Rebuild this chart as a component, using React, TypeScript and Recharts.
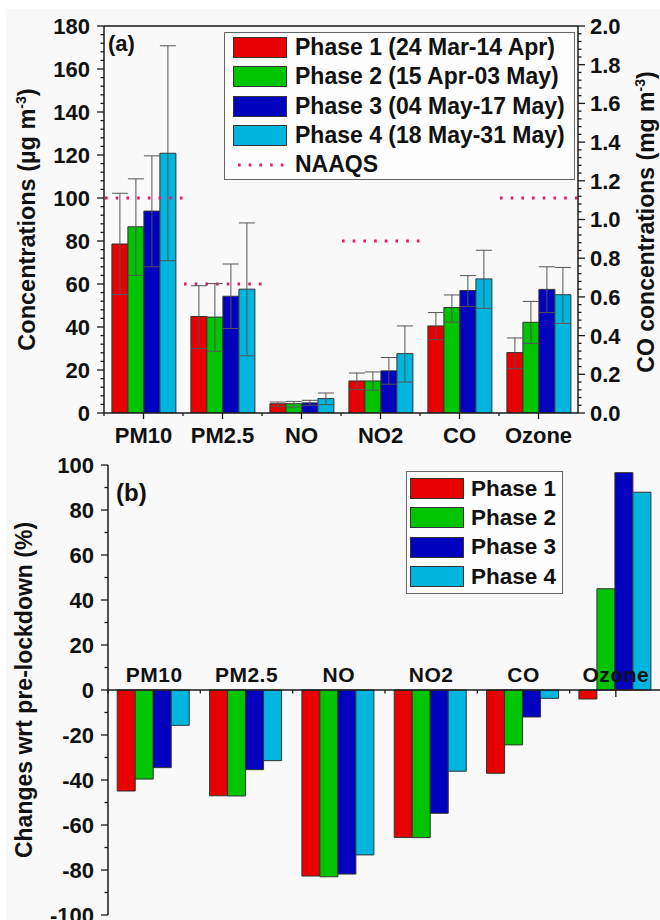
import React from "react";
import {
  ComposedChart,
  Bar,
  Line,
  XAxis,
  YAxis,
  ErrorBar,
  Legend,
  ReferenceLine,
} from "recharts";

const CATEGORIES = ["PM10", "PM2.5", "NO", "NO2", "CO", "Ozone"];

// panel (a): CO is in mg m-3 (right axis), everything else in µg m-3
const PHASE1 = [78.6, 44.9, 4.3, 14.9, 0.45, 28.1];
const PHASE2 = [86.6, 44.6, 4.3, 14.9, 0.545, 42.2];
const PHASE3 = [93.9, 54.3, 4.7, 19.6, 0.633, 57.5];
const PHASE4 = [120.8, 57.6, 6.7, 27.6, 0.693, 55.0];
const PHASE1_LO = [55.1, 30.0, 3.1, 10.9, 0.379, 20.6];
const PHASE1_HI = [102.2, 59.2, 5.1, 18.6, 0.519, 34.9];
const PHASE2_LO = [64.0, 28.7, 2.8, 10.6, 0.47, 32.3];
const PHASE2_HI = [108.9, 60.2, 5.4, 19.1, 0.61, 51.9];
const PHASE3_LO = [68.0, 39.3, 3.6, 13.4, 0.55, 46.7];
const PHASE3_HI = [119.6, 69.3, 5.9, 25.8, 0.71, 68.0];
const PHASE4_LO = [70.8, 26.6, 3.9, 14.4, 0.541, 41.6];
const PHASE4_HI = [170.8, 88.4, 9.3, 40.5, 0.841, 67.7];
const NAAQS = [100, 60, null, 80, null, 100];

// panel (b): % change wrt pre-lockdown
const CHANGE1 = [-44.9, -47.0, -82.7, -65.5, -37.0, -4.0];
const CHANGE2 = [-39.6, -47.1, -83.0, -65.6, -24.4, 45.0];
const CHANGE3 = [-34.5, -35.4, -81.8, -54.8, -12.0, 96.6];
const CHANGE4 = [-15.7, -31.4, -73.3, -36.1, -3.7, 87.9];

const TOP_NAMES = [
  "Phase 1 (24 Mar-14 Apr)",
  "Phase 2 (15 Apr-03 May)",
  "Phase 3 (04 May-17 May)",
  "Phase 4 (18 May-31 May)",
];
const BOTTOM_NAMES = ["Phase 1", "Phase 2", "Phase 3", "Phase 4"];

const LEFT_MAJOR = [0, 20, 40, 60, 80, 100, 120, 140, 160, 180];
const RIGHT_MAJOR = [0, 0.2, 0.4, 0.6, 0.8, 1.0, 1.2, 1.4, 1.6, 1.8, 2.0];
const CHANGE_MAJOR = [-100, -80, -60, -40, -20, 0, 20, 40, 60, 80, 100];

const COLORS = ["#e80000", "#00c400", "#0000bf", "#00b6de"];
const NAAQS_COLOR = "#e3186e";
const AXIS = "#1a1a1a";
const FONT = "'Liberation Sans', Arial, sans-serif";

const W = 660;
const TOP_LEFT_W = 104;
const TOP_RIGHT_W = 82;
const TOP_CAT_W = (W - TOP_LEFT_W - TOP_RIGHT_W) / CATEGORIES.length;
const BOT_W = 662;
const BOT_LEFT_W = 108;
const BOT_CAT_W = (BOT_W - BOT_LEFT_W) / CATEGORIES.length;

const LEFT_MAX = LEFT_MAJOR[LEFT_MAJOR.length - 1];
const RIGHT_MAX = RIGHT_MAJOR[RIGHT_MAJOR.length - 1];
const CO_SCALE = LEFT_MAX / RIGHT_MAX;

const subdivide = (majors: number[], n: number) =>
  majors.flatMap((m, i) =>
    i === 0
      ? [m]
      : Array.from({ length: n }, (_, k) => majors[i - 1] + ((m - majors[i - 1]) * (k + 1)) / n)
  );

const isMajor = (v: number, majors: number[]) => majors.some((m) => Math.abs(m - v) < 1e-6);

const phases = [
  { v: PHASE1, lo: PHASE1_LO, hi: PHASE1_HI },
  { v: PHASE2, lo: PHASE2_LO, hi: PHASE2_HI },
  { v: PHASE3, lo: PHASE3_LO, hi: PHASE3_HI },
  { v: PHASE4, lo: PHASE4_LO, hi: PHASE4_HI },
];

// CO is drawn against the right axis, so bring it onto the left axis units
const toLeft = (v: number, i: number) => (CATEGORIES[i] === "CO" ? v * CO_SCALE : v);

const topData = CATEGORIES.map((name, i) => {
  const row: any = { name, naaqs: NAAQS[i] };
  phases.forEach((p, k) => {
    const v = toLeft(p.v[i], i);
    row[`p${k}`] = v;
    row[`e${k}`] = [v - toLeft(p.lo[i], i), toLeft(p.hi[i], i) - v];
  });
  return row;
});

const bottomData = CATEGORIES.map((name, i) => ({
  name,
  c0: CHANGE1[i],
  c1: CHANGE2[i],
  c2: CHANGE3[i],
  c3: CHANGE4[i],
  zero: 0,
}));

function SideTick(props: any) {
  const { x, y, payload, majors, side, fmt } = props;
  const major = isMajor(payload.value, majors);
  const len = major ? 7 : 3.5;
  const dir = side === "left" ? -1 : 1;
  return (
    <g>
      <line x1={x} x2={x + dir * len} y1={y} y2={y} stroke={AXIS} strokeWidth={1.3} />
      {major && (
        <text
          x={x + dir * (side === "left" ? 14 : 12)}
          y={y}
          dy="0.36em"
          textAnchor={side === "left" ? "end" : "start"}
          fontSize={22}
          fontWeight="bold"
          fontFamily={FONT}
          fill="#111"
        >
          {fmt(payload.value)}
        </text>
      )}
    </g>
  );
}

function TopXTick(props: any) {
  const { x, y, payload } = props;
  return (
    <g>
      <line x1={x} x2={x} y1={y} y2={y + 6} stroke={AXIS} strokeWidth={1.3} />
      <line x1={x - TOP_CAT_W / 2} x2={x - TOP_CAT_W / 2} y1={y} y2={y + 3} stroke={AXIS} strokeWidth={1.3} />
      <text x={x} y={y + 30} textAnchor="middle" fontSize={22} fontWeight="bold" fontFamily={FONT} fill="#111">
        {payload.value}
      </text>
    </g>
  );
}

const NaaqsShape = (p: any) =>
  p.value == null || p.value === 0 ? (
    <g />
  ) : (
    <line
      x1={p.x}
      x2={p.x + p.width}
      y1={p.y}
      y2={p.y}
      stroke={NAAQS_COLOR}
      strokeWidth={3}
      strokeDasharray="2.6 8.1"
    />
  );

const legendKey = (e: any) => (e.dataKey === "naaqs" ? "z" : String(e.dataKey));

function LegendBox({ payload, width, swatchLeft, gap, padTop, fontSize }: any) {
  const items = [...(payload || [])]
    .filter((e: any) => e.type !== "none")
    .sort((a: any, b: any) => (legendKey(a) < legendKey(b) ? -1 : 1));
  return (
    <div
      style={{
        width,
        boxSizing: "border-box",
        border: "1.5px solid #666",
        background: "#fdfdfd",
        padding: `${padTop}px 0 ${padTop}px ${swatchLeft}px`,
        fontFamily: FONT,
      }}
    >
      {items.map((e: any) => (
        <div key={String(e.dataKey)} style={{ display: "flex", alignItems: "center", height: 29.3 }}>
          {e.dataKey === "naaqs" ? (
            <svg width={54} height={20}>
              <line x1={5} x2={52} y1={10} y2={10} stroke={NAAQS_COLOR} strokeWidth={3} strokeDasharray="2.6 8.1" />
            </svg>
          ) : (
            <div
              style={{
                width: 54,
                height: 21,
                boxSizing: "border-box",
                background: e.color,
                border: "1px solid #333",
              }}
            />
          )}
          <span style={{ marginLeft: gap, fontSize, fontWeight: "bold", color: "#111", whiteSpace: "nowrap" }}>
            {e.value}
          </span>
        </div>
      ))}
    </div>
  );
}

function TopChart() {
  return (
    <ComposedChart
      width={W}
      height={460}
      data={topData}
      margin={{ top: 26, right: 0, bottom: 0, left: 0 }}
      barCategoryGap="10%"
      barGap={0}
    >
      <XAxis
        xAxisId="main"
        dataKey="name"
        interval={0}
        height={47}
        tickLine={false}
        tickSize={0}
        tickMargin={0}
        axisLine={{ stroke: AXIS, strokeWidth: 1.5 }}
        tick={<TopXTick />}
      />
      <XAxis xAxisId="naaqs" dataKey="name" hide />
      <YAxis
        yAxisId="left"
        domain={[0, LEFT_MAX]}
        ticks={subdivide(LEFT_MAJOR, 5)}
        interval={0}
        width={TOP_LEFT_W}
        tickLine={false}
        tickSize={0}
        tickMargin={0}
        axisLine={{ stroke: AXIS, strokeWidth: 1.5 }}
        tick={<SideTick majors={LEFT_MAJOR} side="left" fmt={(v: number) => String(v)} />}
        allowDataOverflow
      />
      <YAxis
        yAxisId="right"
        orientation="right"
        domain={[0, RIGHT_MAX]}
        ticks={subdivide(RIGHT_MAJOR, 5)}
        interval={0}
        width={TOP_RIGHT_W}
        tickLine={false}
        tickSize={0}
        tickMargin={0}
        axisLine={{ stroke: AXIS, strokeWidth: 1.5 }}
        tick={<SideTick majors={RIGHT_MAJOR} side="right" fmt={(v: number) => v.toFixed(1)} />}
        allowDataOverflow
      />
      <ReferenceLine yAxisId="left" xAxisId="main" y={LEFT_MAX} stroke={AXIS} strokeWidth={1.5} />
      {phases.map((_, k) => (
        <Bar
          key={k}
          xAxisId="main"
          yAxisId="left"
          dataKey={`p${k}`}
          name={TOP_NAMES[k]}
          fill={COLORS[k]}
          stroke="#333"
          strokeWidth={1}
          isAnimationActive={false}
        >
          <ErrorBar dataKey={`e${k}`} width={8} stroke="#555" strokeWidth={1} direction="y" />
        </Bar>
      ))}
      <Bar
        xAxisId="naaqs"
        yAxisId="left"
        dataKey="naaqs"
        name="NAAQS"
        barSize={78}
        shape={NaaqsShape}
        isAnimationActive={false}
      />
      <Legend
        layout="vertical"
        align="center"
        verticalAlign="middle"
        wrapperStyle={{ position: "absolute", left: 224, top: 32, width: 351 }}
        content={(p: any) => (
          <LegendBox payload={p.payload} width={351} swatchLeft={8} gap={8} padTop={0} fontSize={23} />
        )}
      />
      <text x={108} y={51} fontSize={22} fontWeight="bold" fontFamily={FONT} fill="#111">
        (a)
      </text>
      <text
        transform="translate(27,219.5) rotate(-90)"
        textAnchor="middle"
        dy="0.36em"
        fontSize={23.5}
        fontWeight="bold"
        fontFamily={FONT}
        fill="#111"
      >
        Concentrations (µg m<tspan dy={-9} fontSize={14}>-3</tspan>
        <tspan dy={9}>)</tspan>
      </text>
      <text
        transform="translate(646,222) rotate(-90)"
        textAnchor="middle"
        dy="0.36em"
        fontSize={23}
        fontWeight="bold"
        fontFamily={FONT}
        fill="#111"
      >
        CO concentrations (mg m<tspan dy={-9} fontSize={14}>-3</tspan>
        <tspan dy={9}>)</tspan>
      </text>
    </ComposedChart>
  );
}

function BottomChart() {
  return (
    <ComposedChart
      width={BOT_W}
      height={480}
      data={bottomData}
      margin={{ top: 25, right: 0, bottom: 5, left: 0 }}
      barCategoryGap="10%"
      barGap={0}
    >
      <XAxis dataKey="name" hide />
      <YAxis
        domain={[-100, 100]}
        ticks={subdivide(CHANGE_MAJOR, 2)}
        interval={0}
        width={BOT_LEFT_W}
        tickLine={false}
        tickSize={0}
        tickMargin={0}
        axisLine={{ stroke: AXIS, strokeWidth: 1.5 }}
        tick={<SideTick majors={CHANGE_MAJOR} side="left" fmt={(v: number) => String(v)} />}
        allowDataOverflow
      />
      <Line
        dataKey="zero"
        stroke="none"
        legendType="none"
        activeDot={false}
        isAnimationActive={false}
        dot={(p: any) => (
          <g key={`t-${p.index}`}>
            <line x1={p.cx} x2={p.cx} y1={p.cy} y2={p.cy + 7} stroke={AXIS} strokeWidth={1.3} />
            <line
              x1={p.cx - BOT_CAT_W / 2}
              x2={p.cx - BOT_CAT_W / 2}
              y1={p.cy}
              y2={p.cy + 3.5}
              stroke={AXIS}
              strokeWidth={1.3}
            />
          </g>
        )}
      />
      {[0, 1, 2, 3].map((k) => (
        <Bar
          key={k}
          dataKey={`c${k}`}
          name={BOTTOM_NAMES[k]}
          fill={COLORS[k]}
          stroke="#333"
          strokeWidth={1}
          isAnimationActive={false}
        />
      ))}
      <ReferenceLine y={0} stroke={AXIS} strokeWidth={1.5} />
      <Line
        dataKey="zero"
        stroke="none"
        legendType="none"
        activeDot={false}
        isAnimationActive={false}
        dot={(p: any) => (
          <text
            key={`l-${p.index}`}
            x={p.cx}
            y={p.cy - 8}
            textAnchor="middle"
            fontSize={21}
            fontWeight="bold"
            fontFamily={FONT}
            letterSpacing={0.5}
            fill="#111"
          >
            {p.payload.name}
          </text>
        )}
      />
      <Legend
        layout="vertical"
        align="center"
        verticalAlign="middle"
        wrapperStyle={{ position: "absolute", left: 406, top: 31, width: 157 }}
        content={(p: any) => (
          <LegendBox payload={p.payload} width={157} swatchLeft={3} gap={7} padTop={2} fontSize={22.5} />
        )}
      />
      <text x={116} y={501 - 440} fontSize={24} fontWeight="bold" fontFamily={FONT} fill="#111">
        (b)
      </text>
      <text
        transform={`translate(24,${690 - 440}) rotate(-90)`}
        textAnchor="middle"
        dy="0.36em"
        fontSize={23}
        fontWeight="bold"
        fontFamily={FONT}
        fill="#111"
      >
        Changes wrt pre-lockdown (%)
      </text>
    </ComposedChart>
  );
}

export default function App() {
  return (
    <div
      style={{
        position: "absolute",
        left: 0,
        top: 0,
        width: W,
        height: 920,
        overflow: "hidden",
        background: "#fff",
        fontFamily: FONT,
      }}
    >
      <div style={{ position: "absolute", left: 6, top: 9, right: 0, bottom: 0, background: "#f9f9f9" }} />
      <div style={{ position: "absolute", left: 0, top: 0 }}>
        <TopChart />
      </div>
      <div style={{ position: "absolute", left: 0, top: 440 }}>
        <BottomChart />
      </div>
    </div>
  );
}
